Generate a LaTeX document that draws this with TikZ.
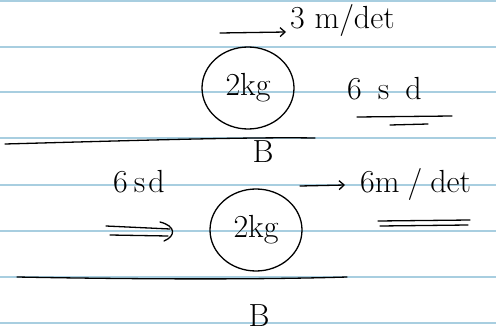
\documentclass[tikz,border=0pt]{standalone}
\usepackage{fontspec}
\usetikzlibrary{shapes.geometric,arrows.meta}
\begin{document}
\begin{tikzpicture}[x=1pt,y=-1pt,
  ink/.style={line width=1.3pt,line cap=round,black},
  rule/.style={line width=1.4pt,color={rgb,255:red,168;green,206;blue,224}},
  hand/.style={font=\fontsize{32}{34}\selectfont,inner sep=0pt},
  mass/.style={ellipse,ink,draw,inner sep=0pt,minimum width=92pt,minimum height=82pt,font=\fontsize{32}{34}\selectfont},
  harrow/.style={ink,-{Straight Barb[length=5pt,width=9pt]}}]
\useasboundingbox (0,0) rectangle (496,332);
\fill[white] (0,0) rectangle (496,332);
% notebook lines
\foreach \yy in {1,47,92,138,185,231,277,323}
  \draw[rule] (0,\yy) -- (496,\yy);
% ---------- top scene ----------
\node[mass] (m1) at (248,88) {2kg};
\node[hand,anchor=west] (v1) at (290,20) {3 m/det};
\coordinate (a1s) at (220,33);
\coordinate (a1e) at (286,32);
\draw[harrow] (a1s) -- (a1e);
\node[hand,anchor=west] (p1) at (347,89) {6\hspace{16pt}s\hspace{16pt}d};
\coordinate (u1a) at (357,117);
\coordinate (u1b) at (452,116);
\draw[ink] (u1a) -- (u1b);
\coordinate (u2a) at (390,125);
\coordinate (u2b) at (428,124);
\draw[ink] (u2a) -- (u2b);
\coordinate (g1a) at (5,144);
\coordinate (g1b) at (315,138);
\draw[ink] (g1a) .. controls (150,140) and (250,137) .. (g1b);
\node[hand] (b1) at (263,152) {B};
% ---------- bottom scene ----------
\node[mass] (m2) at (256,230) {2kg};
\node[hand,anchor=west] (p2) at (113,182) {6\hspace{6pt}s\hspace{3pt}d};
\coordinate (a2s) at (300,186);
\coordinate (a2e) at (345,185);
\draw[harrow] (a2s) -- (a2e);
\node[hand,anchor=west] (v2) at (360,184) {6m\hspace{8pt}/\hspace{8pt}det};
\coordinate (u3a) at (378,221);
\coordinate (u3b) at (470,220);
\draw[ink] (u3a) -- (u3b);
\coordinate (u4a) at (380,226);
\coordinate (u4b) at (468,225);
\draw[ink] (u4a) -- (u4b);
\coordinate (d1a) at (106,226);
\coordinate (d1b) at (170,229);
\coordinate (d2a) at (110,235);
\coordinate (d2b) at (168,236);
\draw[ink] (d1a) -- (d1b);
\draw[ink] (d2a) -- (d2b);
\draw[ink] (160,222) .. controls (176,226) and (176,236) .. (164,241);
\coordinate (g2a) at (17,277);
\coordinate (g2b) at (347,277);
\draw[ink] (g2a) .. controls (120,279) and (250,280) .. (g2b);
\node[hand] (b2) at (259,316) {B};
\end{tikzpicture}
\end{document}
